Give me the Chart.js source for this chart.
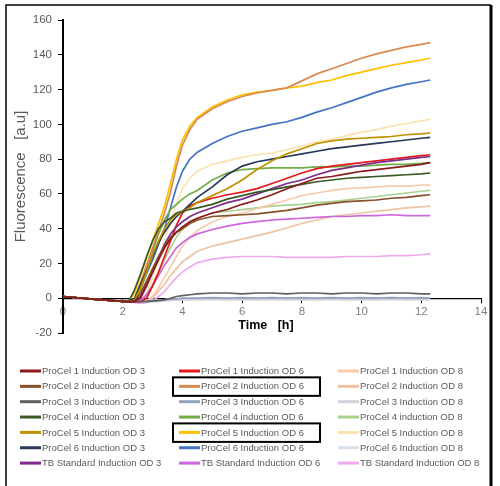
<!DOCTYPE html>
<html>
<head>
<meta charset="utf-8">
<script src="https://cdn.jsdelivr.net/npm/chart.js@4.4.0/dist/chart.umd.min.js"></script>
<style>
  html, body { margin: 0; padding: 0; background: #fff; }
</style>
</head>
<body>
<canvas id="chart" width="500" height="486"></canvas>
<script>
// time axis in hours
const hours = [0, 1, 2, 2.2, 2.4, 2.6, 2.8, 3, 3.2, 3.4, 3.6, 3.8, 4, 4.25, 4.5, 5, 5.5, 6, 6.5, 7, 7.5, 8, 8.5, 9, 9.5, 10, 10.5, 11, 11.5, 12, 12.3];

// induction at OD 3
const p1od3 = [1, -0.5, -1.8, -2, -2, 1, 8, 15, 22, 29, 34, 38, 41, 44, 46, 49, 51, 54, 56.5, 59.5, 63, 66, 69, 70, 71.5, 73, 74, 75, 76, 77, 78];
const p2od3 = [1, -0.5, -1.8, -2, -1.5, 3, 10, 17, 24, 30, 35, 38, 40, 43, 45, 47, 47.5, 48, 48.5, 49.5, 50.5, 52, 53.5, 54.5, 55.5, 56, 56.5, 57.5, 58, 59, 59.5];
const p3od3 = [1, -0.5, -1.8, -2, -2, -2, -1.8, -1.5, -1.2, -1, 0, 1, 1.5, 2, 2.5, 3, 3, 2.5, 3, 3, 2.5, 3, 3, 2.5, 3, 3, 2.5, 3, 3, 2.5, 2.5];
const p4od3 = [1, -0.5, -1.8, -2, 5, 14, 24, 33, 40, 44, 46, 49, 50, 51, 52, 54, 57, 59, 61, 62.5, 64, 65.5, 67, 68, 69, 69.5, 70, 70.5, 71, 71.5, 72];
const p5od3 = [1, -0.5, -1.8, -2, -1, 6, 15, 25, 33, 40, 45, 48, 50, 52, 55, 59, 63, 68, 74, 79, 83, 86, 89, 90.5, 91.5, 92, 92.5, 93, 94, 94.5, 95];
const p6od3 = [1, -0.5, -1.8, -2, 0, 8, 16, 24, 32, 38, 43, 47, 50, 54, 58, 64, 71, 76, 78.5, 80, 81.5, 83, 84.5, 86, 87, 88, 89, 90, 91, 92, 92.5];
const tbod3 = [1, -0.5, -1.8, -2, -2, 0, 7, 15, 23, 31, 37, 41, 44, 47, 49, 52, 55, 57, 60, 63, 66, 68, 71, 73.5, 75, 76.5, 78, 79, 80, 81, 81.5];

// induction at OD 6
const p1od6 = [1, -0.5, -1.8, -2, -2, -2, 0, 7, 15, 24, 33, 42, 49, 53, 55, 57.5, 59.5, 61, 63, 66, 69, 72, 74.5, 76, 77, 78, 79, 80, 81, 82, 82.5];
const p2od6 = [1, -0.5, -1.8, -2, 0, 9, 19, 29, 39, 49, 61, 76, 88, 97, 103, 109, 113, 116, 118, 119.5, 121, 125, 129, 132, 135, 138, 140.5, 142.5, 144.5, 146, 147];
const p3od6 = [1, -0.5, -1.8, -2, -2, -2, -2, -1.8, -1.5, -1, -0.5, -0.5, 0, 0, 0, 0.3, 0, 0.3, 0, 0.3, 0, 0.3, 0, 0.3, 0, 0.3, 0, 0.3, 0, 0.3, 0];
const p4od6 = [1, -0.5, -1.8, -2, -1, 5, 15, 27, 37, 45, 51, 54, 57, 60, 62, 68, 72, 74, 74.5, 75, 75, 75, 75.5, 75.5, 76, 76, 76.5, 77, 77, 77.5, 78];
const p5od6 = [1, -0.5, -1.8, -2, 3, 13, 23, 33, 43, 53, 66, 80, 91, 99, 104, 110, 114, 117, 118.5, 119.5, 121, 122, 124, 125.5, 128, 130, 132, 134, 135.5, 137, 138];
const p6od6 = [1, -0.5, -1.8, -2, -1, 6, 14, 22, 31, 40, 52, 64, 73, 80, 84, 89, 93, 96, 98, 100, 101.5, 104, 107, 109.5, 112.5, 115.5, 118.5, 121, 123, 124.5, 125.5];
const tbod6 = [1, -0.5, -1.8, -2, -2, -1.5, 2, 7, 13, 19, 24, 29, 32, 35, 37, 39.5, 41.5, 43, 44, 45, 45.5, 46, 46.5, 47, 47, 47.5, 47.5, 48, 47.5, 47.5, 47.5];

// induction at OD 8
const p1od8 = [1, -0.5, -1.8, -2, -2, -2, -1.5, 1, 6, 12, 18, 24, 30, 35, 39, 44, 47, 49, 51.5, 54, 56.5, 59, 60.5, 62, 63, 63.5, 64, 64.5, 64.5, 65, 65];
const p2od8 = [1, -0.5, -1.8, -2, -2, -2, -1.5, 0, 4, 8, 13, 17, 21, 24, 27, 30, 32, 34, 36, 38, 40.5, 43, 45, 47, 48, 49, 50, 51, 52, 52.5, 53];
const p3od8 = [1, -0.5, -1.8, -2, -2, -2, -2, -2, -1.8, -1.5, -1.2, -1, -1, -0.8, -1, -0.7, -1, -0.8, -1, -0.7, -1, -0.8, -1, -0.7, -1, -0.8, -1, -0.7, -1, -0.8, -1];
const p4od8 = [1, -0.5, -1.8, -2, -2, -1.5, 2, 8, 15, 22, 29, 35, 40, 44, 46, 49, 50, 51, 52, 53, 53.5, 54, 55, 55.5, 56.5, 57.5, 58.5, 59.5, 60.5, 61.5, 62];
const p5od8 = [1, -0.5, -1.8, -2, -2, -1.5, 3, 12, 22, 33, 44, 54, 63, 69, 73, 77, 79, 81, 82.5, 83.5, 85.5, 87.5, 90, 91.5, 93.5, 95.5, 97, 99, 100.5, 102, 103];
const p6od8 = [1, -0.5, -1.8, -2, -2, -2, -2, -1.5, -1, -0.8, -0.5, -0.5, -0.3, -0.5, -0.3, -0.5, -0.2, -0.5, -0.3, -0.5, -0.2, -0.5, -0.3, -0.5, -0.2, -0.5, -0.3, -0.5, -0.2, -0.5, -0.3];
const tbod8 = [1, -0.5, -1.8, -2, -2.5, -3, -2.5, -1.5, 1, 4, 8, 12, 15, 18, 20.5, 22.5, 23.5, 24, 24, 24, 23.5, 23.5, 23.5, 23.5, 24, 24, 24, 24.5, 24.5, 25, 25.5];

const labels = [
  "ProCel 1 Induction OD 3", "ProCel 2 Induction OD 3", "ProCel 3 Induction OD 3", "ProCel 4 induction OD 3",
  "ProCel 5 Induction OD 3", "ProCel 6 Induction OD 3", "TB Standard Induction OD 3",
  "ProCel 1 Induction OD 6", "ProCel 2 Induction OD 6", "ProCel 3 Induction OD 6", "ProCel 4 induction OD 6",
  "ProCel 5 Induction OD 6", "ProCel 6 Induction OD 6", "TB Standard Induction OD 6",
  "ProCel 1 Induction OD 8", "ProCel 2 Induction OD 8", "ProCel 3 Induction OD 8", "ProCel 4 induction OD 8",
  "ProCel 5 Induction OD 8", "ProCel 6 Induction OD 8", "TB Standard Induction OD 8"
];
const series = [p1od3, p2od3, p3od3, p4od3, p5od3, p6od3, tbod3,
                p1od6, p2od6, p3od6, p4od6, p5od6, p6od6, tbod6,
                p1od8, p2od8, p3od8, p4od8, p5od8, p6od8, tbod8];
const colors = [
  "#8B1A1A", "#86502A", "#5F5F5F", "#3B5A25", "#BF9000", "#26395A", "#7E2C8C",
  "#E3191C", "#D98A50", "#8FA2C0", "#70AD47", "#FFC000", "#4472C4", "#CC66DD",
  "#F8CBAD", "#EFC3A2", "#D6D0DC", "#A9D18E", "#FBE3B0", "#D8E0EE", "#EEAAEE"
];
const highlighted = [8, 11]; // boxed legend entries

const datasets = series.map((vals, i) => ({
  label: labels[i],
  data: hours.map((h, j) => ({ x: h, y: vals[j] })),
  borderColor: colors[i],
  backgroundColor: colors[i],
  borderWidth: 1.7,
  pointRadius: 0,
  fill: false,
  tension: 0
}));

const extras = {
  id: "extras",
  afterDraw(chart) {
    const ctx = chart.ctx;
    const xs = chart.scales.x, ys = chart.scales.y;
    ctx.save();

    // x axis title
    ctx.font = 'bold 12.5px "Liberation Sans", Arial, sans-serif';
    ctx.fillStyle = "#000";
    ctx.textAlign = "center";
    ctx.textBaseline = "middle";
    ctx.fillText("Time   [h]", (xs.left + xs.right) / 2 - 6, ys.getPixelForValue(0) + 27);

    // legend, 3 columns x 7 rows
    const colX = [20, 179, 338];
    const rowY0 = 371, rowH = 15.35;
    ctx.font = '9.5px "Liberation Sans", Arial, sans-serif';
    ctx.textAlign = "left";
    labels.forEach((lab, i) => {
      const c = Math.floor(i / 7), r = i % 7;
      const x = colX[c], y = rowY0 + r * rowH;
      ctx.strokeStyle = colors[i];
      ctx.lineWidth = 3;
      ctx.beginPath();
      ctx.moveTo(x, y);
      ctx.lineTo(x + 21, y);
      ctx.stroke();
      ctx.fillStyle = "#595959";
      ctx.fillText(lab, x + 22, y + 0.5);
    });
    ctx.strokeStyle = "#000";
    ctx.lineWidth = 2;
    highlighted.forEach(i => {
      const c = Math.floor(i / 7), r = i % 7;
      const x = colX[c], y = rowY0 + r * rowH;
      ctx.strokeRect(x - 6, y - 9, 147, 18.5);
    });

    // frame
    ctx.lineWidth = 1.5;
    ctx.beginPath();
    ctx.moveTo(6, 486);
    ctx.lineTo(6, 5);
    ctx.lineTo(491, 5);
    ctx.stroke();
    ctx.lineWidth = 3;
    ctx.beginPath();
    ctx.moveTo(491, 5);
    ctx.lineTo(491, 486);
    ctx.stroke();
    ctx.restore();
  }
};

new Chart(document.getElementById("chart"), {
  type: "line",
  data: { datasets },
  options: {
    responsive: false,
    animation: false,
    layout: { padding: { left: 0, top: 20, right: 19, bottom: 153 } },
    plugins: { legend: { display: false }, tooltip: { enabled: false } },
    scales: {
      x: {
        type: "linear",
        position: { y: 0 },
        min: 0, max: 14,
        afterFit: s => { s.height = 0; },
        ticks: { stepSize: 2, padding: 3, color: "#7F7F7F", font: { size: 11.5, family: '"Liberation Sans", Arial, sans-serif' } },
        grid: { display: true, drawOnChartArea: false, drawTicks: true, tickLength: 4, color: "#000" },
        border: { display: true, color: "#000", width: 1.3 }
      },
      y: {
        min: -20, max: 160,
        afterFit: s => { s.width = 63; },
        ticks: { stepSize: 20, padding: 6, color: "#595959", font: { size: 11.5, family: '"Liberation Sans", Arial, sans-serif' } },
        grid: { display: true, drawOnChartArea: false, drawTicks: true, tickLength: 5, color: "#000" },
        border: { display: true, color: "#000", width: 2 },
        title: {
          display: true,
          text: "Fluorescence   [a.u]",
          color: "#595959",
          padding: { top: 12, bottom: 0 },
          font: { size: 15, family: '"Liberation Sans", Arial, sans-serif' }
        }
      }
    }
  },
  plugins: [extras]
});
</script>
</body>
</html>
